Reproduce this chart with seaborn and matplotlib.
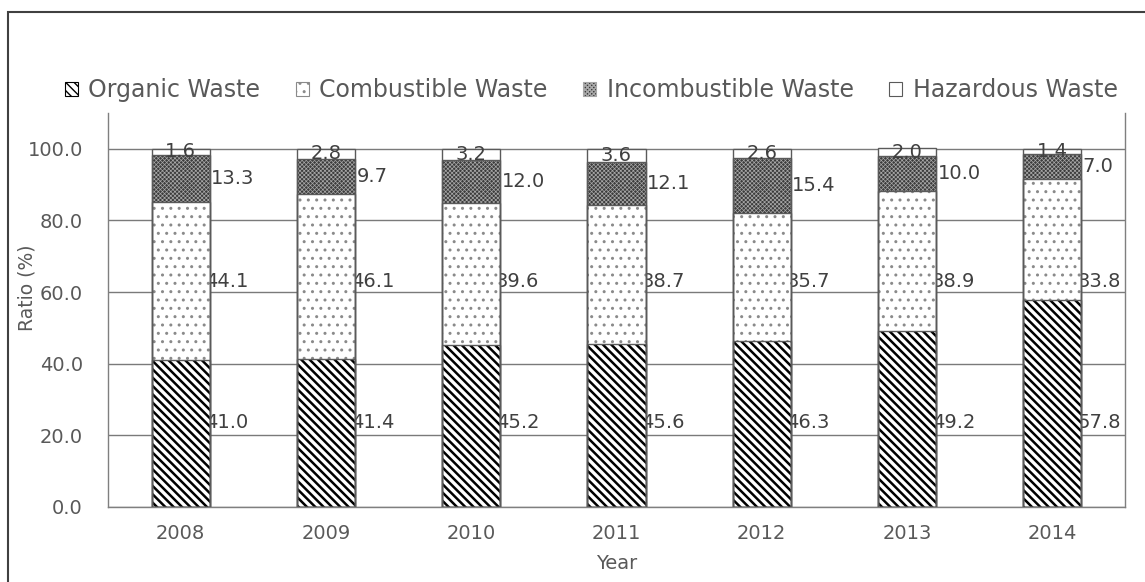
import numpy as np
import pandas as pd
import matplotlib
matplotlib.use("Agg")
import matplotlib.pyplot as plt
from matplotlib.patches import Patch, Rectangle
import seaborn as sns

# Share of each waste type per year (%)
years = ["2008", "2009", "2010", "2011", "2012", "2013", "2014"]
organic = [41.0, 41.4, 45.2, 45.6, 46.3, 49.2, 57.8]
combustible = [44.1, 46.1, 39.6, 38.7, 35.7, 38.9, 33.8]
incombustible = [13.3, 9.7, 12.0, 12.1, 15.4, 10.0, 7.0]
hazardous = [1.6, 2.8, 3.2, 3.6, 2.6, 2.0, 1.4]
series_names = ["Organic Waste", "Combustible Waste",
                "Incombustible Waste", "Hazardous Waste"]
y_ticks = [0, 20, 40, 60, 80, 100]

sns.set_theme(style="white")
plt.rcParams["font.family"] = ["DejaVu Sans"]

TEXT = "#595959"
LABEL = "#404040"
EDGE = "#5a5a5a"
FS = 14

values = np.array([organic, combustible, incombustible, hazardous])
tops = np.cumsum(values, axis=0)
bottoms = tops - values

df = pd.DataFrame({"Year": years})
for name, top in zip(series_names, tops):
    df[name] = top

# fill colour, hatch colour, hatch pattern, hatch line width
styles = {
    "Organic Waste": ("white", "black", "\\\\\\\\", 1.8),
    "Combustible Waste": ("white", "#8a8a8a", "..", 1.0),
    "Incombustible Waste": ("#3c3c3c", "#a8a8a8", "xxxxxxxx", 0.5),
    "Hazardous Waste": ("white", "white", "", 1.0),
}

fig = plt.figure(figsize=(11.45, 5.82), dpi=100)
ax = fig.add_axes([0.0943, 0.1289, 0.8882, 0.6769])

# stacked bars: draw cumulative totals from the top series downwards
for name in reversed(series_names):
    face, hcol, hatch, hlw = styles[name]
    with plt.rc_context({"hatch.linewidth": hlw}):
        sns.barplot(data=df, x="Year", y=name, color=face, edgecolor=hcol,
                    hatch=hatch, linewidth=0, width=0.4, saturation=1,
                    errorbar=None, ax=ax, zorder=2)
for name in reversed(series_names):
    sns.barplot(data=df, x="Year", y=name, fill=False, color=EDGE,
                linewidth=1.0, width=0.4, errorbar=None, ax=ax, zorder=3)

ax.set_ylim(0, 110)
ax.set_xlim(-0.5, len(years) - 0.5)
ax.set_yticks(y_ticks)
ax.set_yticklabels([f"{t:.1f}" for t in y_ticks])
ax.yaxis.grid(True, color="#7a7a7a", linewidth=1.0)
ax.set_axisbelow(True)
ax.tick_params(axis="y", length=0, pad=18, labelsize=FS, labelcolor=TEXT)
ax.tick_params(axis="x", length=0, pad=12, labelsize=FS, labelcolor=TEXT)
ax.set_xlabel("")
ax.set_ylabel("")
for side in ("left", "right", "bottom"):
    ax.spines[side].set_color("#7f7f7f")
    ax.spines[side].set_linewidth(1.0)
ax.spines["top"].set_visible(False)

# value labels (the hazardous ones sit on top of the bars)
for i in range(len(years)):
    ax.text(i + 0.17, 23.5, f"{organic[i]:.1f}", ha="left", va="center",
            fontsize=FS, color=LABEL, zorder=1)
    ax.text(i + 0.17, 63.0, f"{combustible[i]:.1f}", ha="left", va="center",
            fontsize=FS, color=LABEL, zorder=1)
    ax.text(i + 0.21, bottoms[2, i] + incombustible[i] / 2,
            f"{incombustible[i]:.1f}", ha="left", va="center",
            fontsize=FS, color=LABEL, zorder=1)
    ax.text(i, bottoms[3, i] + hazardous[i] / 2, f"{hazardous[i]:.1f}",
            ha="center", va="center", fontsize=FS, color=LABEL, zorder=4)

# legend
handles = []
for name in series_names:
    face, hcol, hatch, hlw = styles[name]
    edge = hcol if name != "Hazardous Waste" else EDGE
    handles.append(Patch(facecolor=face, edgecolor=edge, hatch=hatch,
                         linewidth=0.8))
fig.legend(handles, series_names, loc="center", bbox_to_anchor=(0.5165, 0.845),
           ncol=4, frameon=False, fontsize=17, handlelength=0.55,
           handleheight=0.55, handletextpad=0.45, columnspacing=1.5,
           labelcolor=TEXT)

fig.text(0.0236, 0.505, "Ratio (%)", rotation=90, ha="center", va="center",
         fontsize=13.5, color=TEXT,
         family=["Liberation Sans Narrow", "DejaVu Sans"])
fig.text(0.5385, 0.031, "Year", ha="center", va="center", fontsize=FS,
         color=TEXT)

# outer frame
fig.add_artist(Rectangle((8 / 1145, -1), 2, 1 + (1 - 12 / 582), fill=False,
                         edgecolor="#404040", linewidth=1.5,
                         transform=fig.transFigure))

fig.savefig("out.png", dpi=100)
